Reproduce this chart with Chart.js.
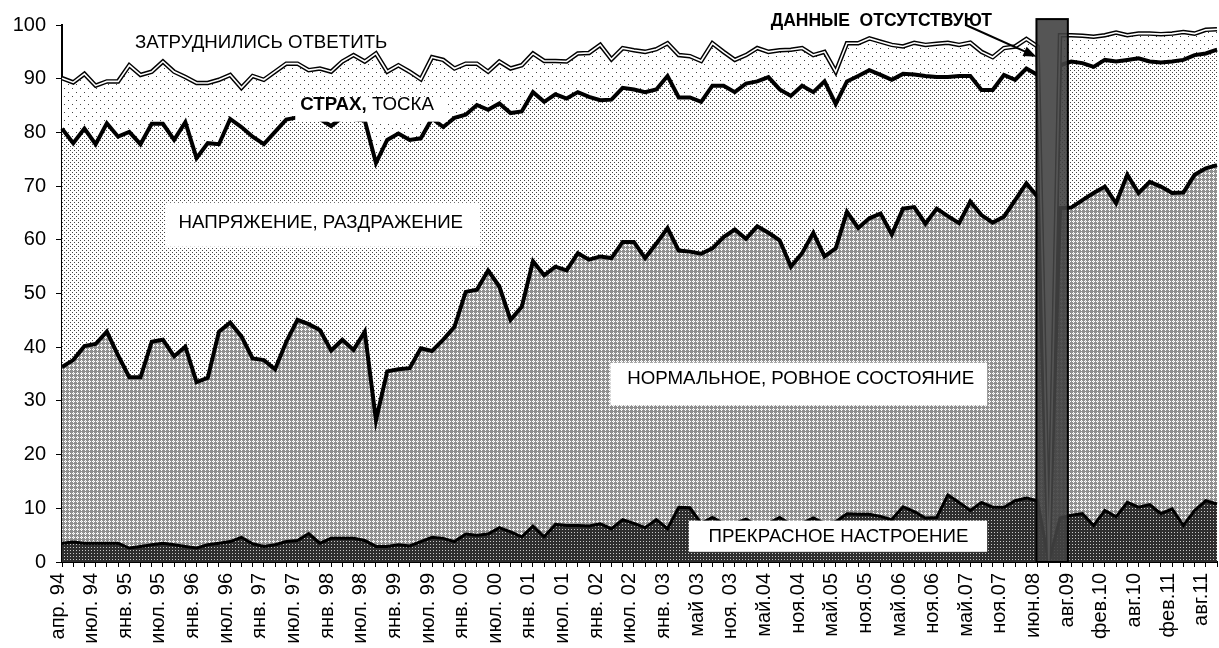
<!DOCTYPE html>
<html lang="ru">
<head>
<meta charset="utf-8">
<title>Настроение</title>
<script src="https://cdn.jsdelivr.net/npm/chart.js@4.4.1/dist/chart.umd.min.js"></script>
<style>
    html, body { margin: 0; padding: 0; background: #fff; }
    #wrap { width: 1219px; height: 648px; }
</style>
</head>
<body>
<div id="wrap"><canvas id="mood-chart" width="1219" height="648"></canvas></div>
<script>
// ============================================
// Data (percent, stacked to 100)
// each array is the upper edge of its band
// ============================================

const tickLabels = [
    'апр. 94', 'июл. 94', 'янв. 95', 'июл. 95', 'янв. 96', 'июл. 96', 'янв. 97',
    'июл. 97', 'янв. 98', 'июл. 98', 'янв. 99', 'июл. 99', 'янв. 00', 'июл. 00',
    'янв. 01', 'июл. 01', 'янв. 02', 'июл. 02', 'янв. 03', 'май 03', 'ноя. 03',
    'май.04', 'ноя.04', 'май.05', 'ноя.05', 'май.06', 'ноя.06', 'май.07',
    'ноя.07', 'июн.08', 'авг.09', 'фев.10', 'авг.10', 'фев.11', 'авг.11'
];

// ПРЕКРАСНОЕ НАСТРОЕНИЕ
const excellent = [
    3.5, 3.7, 3.5, 3.5, 3.5, 3.5, 2.6, 2.9, 3.2, 3.5,
    3.2, 2.9, 2.6, 3.2, 3.5, 3.8, 4.6, 3.4, 2.9, 3.2,
    3.8, 4.0, 5.3, 3.5, 4.4, 4.4, 4.4, 4.0, 2.9, 2.9,
    3.2, 3.0, 3.8, 4.6, 4.4, 3.8, 5.2, 5.0, 5.2, 6.4,
    5.6, 4.7, 6.7, 4.7, 7.0, 6.8, 6.8, 6.7, 7.1, 6.2,
    7.9, 7.2, 6.4, 7.9, 6.2, 10.2, 10.1, 7.2, 8.3, 7.2,
    7.2, 8.0, 6.8, 7.2, 8.3, 7.0, 7.2, 8.2, 7.2, 7.5,
    9.0, 8.9, 8.9, 8.5, 7.9, 10.3, 9.4, 8.2, 8.3, 12.5,
    11.1, 9.6, 11.1, 10.2, 10.2, 11.4, 11.9, 11.4, 0, 8.2,
    8.7, 9.0, 6.8, 9.6, 8.4, 11.1, 10.2, 10.7, 9.0, 9.9,
    6.8, 9.6, 11.4, 10.8
];

// + НОРМАЛЬНОЕ, РОВНОЕ СОСТОЯНИЕ
const normalTop = [
    36.3, 37.6, 40.2, 40.6, 42.9, 38.5, 34.4, 34.4, 41.0, 41.4,
    38.3, 40.1, 33.5, 34.3, 42.9, 44.6, 42.0, 37.9, 37.6, 35.9,
    41.0, 45.1, 44.3, 43.2, 39.4, 41.4, 39.5, 42.9, 26.4, 35.5,
    35.9, 36.1, 39.8, 39.3, 41.4, 43.8, 50.3, 50.7, 54.3, 51.3,
    45.1, 47.5, 56.0, 53.4, 55.0, 54.3, 57.5, 56.3, 56.9, 56.6,
    59.6, 59.6, 56.6, 59.3, 62.2, 58.0, 57.8, 57.4, 58.4, 60.5,
    61.9, 60.2, 62.5, 61.3, 59.9, 55.0, 57.5, 61.3, 56.9, 58.4,
    65.2, 62.2, 64.0, 64.9, 61.0, 65.8, 66.1, 63.0, 65.8, 64.4,
    63.1, 67.1, 64.6, 63.2, 64.3, 67.4, 70.5, 68.0, 0, 65.9,
    66.0, 67.4, 68.7, 69.9, 66.8, 72.1, 68.7, 70.8, 69.9, 68.7,
    68.8, 72.1, 73.3, 73.9
];

// + НАПРЯЖЕНИЕ, РАЗДРАЖЕНИЕ
const tensionTop = [
    80.7, 78.0, 80.7, 77.8, 81.7, 79.2, 80.1, 77.8, 81.6, 81.6,
    78.6, 81.9, 75.2, 78.0, 77.8, 82.5, 81.0, 79.2, 77.8, 80.1,
    82.4, 82.8, 83.0, 82.5, 81.2, 82.8, 82.5, 82.2, 74.3, 78.6,
    79.8, 78.6, 78.9, 82.6, 81.0, 82.7, 83.3, 85.1, 84.2, 85.4,
    83.6, 83.9, 87.5, 85.7, 87.1, 86.3, 87.5, 86.6, 86.0, 86.1,
    88.3, 88.0, 87.5, 88.0, 90.5, 86.5, 86.5, 85.7, 88.7, 88.7,
    87.5, 89.1, 89.5, 90.3, 88.0, 86.8, 88.7, 87.5, 89.5, 85.3,
    89.5, 90.5, 91.6, 90.7, 89.8, 90.9, 90.8, 90.5, 90.3, 90.3,
    90.5, 90.5, 87.9, 87.9, 90.7, 89.8, 91.9, 90.7, 0, 92.5,
    93.2, 92.9, 92.2, 93.5, 93.2, 93.5, 93.8, 93.2, 93.0, 93.2,
    93.5, 94.4, 94.7, 95.4
];

// + СТРАХ, ТОСКА (the rest up to 100 is ЗАТРУДНИЛИСЬ ОТВЕТИТЬ)
const fearTop = [
    90.1, 89.3, 90.9, 88.7, 89.5, 89.5, 92.5, 90.7, 91.3, 93.2,
    91.3, 90.3, 89.2, 89.2, 89.8, 90.7, 88.3, 90.5, 89.8, 91.3,
    92.8, 92.8, 91.6, 91.9, 91.3, 93.2, 94.4, 93.2, 94.7, 91.3,
    92.5, 91.3, 89.9, 94.0, 93.5, 91.9, 92.8, 92.8, 91.3, 93.2,
    91.9, 92.5, 94.7, 93.3, 93.3, 93.2, 94.7, 94.8, 96.3, 93.6,
    95.7, 95.3, 95.0, 95.5, 96.6, 94.4, 94.2, 93.3, 96.6, 95.0,
    93.5, 94.4, 95.7, 95.0, 95.3, 95.4, 95.7, 94.4, 95.0, 91.3,
    96.6, 96.6, 97.5, 96.9, 96.3, 96.0, 96.7, 96.3, 96.5, 96.7,
    96.3, 96.7, 95.0, 94.0, 95.7, 96.0, 97.4, 96.0, 0, 98.1,
    98.1, 98.0, 97.8, 98.1, 98.6, 98.1, 98.4, 98.4, 98.3, 98.4,
    98.7, 98.4, 99.1, 99.2
];

// one category per survey, every third one is labelled
const categories = excellent.map((v, i) => i);

// ============================================
// Annotations (x in category index, y in percent)
// ============================================

const FONT = '"Liberation Sans", Arial, sans-serif';

const bandLabels = [
    { parts: [['', 'ЗАТРУДНИЛИСЬ ОТВЕТИТЬ']], x: 6.5, y: 96.7, box: null },
    { parts: [['bold', 'СТРАХ,'], ['', ' ТОСКА']], x: 21.25, y: 85.1, box: [20.8, 34.4, 86.6, 82.0] },
    { parts: [['', 'НАПРЯЖЕНИЕ, РАЗДРАЖЕНИЕ']], x: 10.4, y: 63.1, box: [9.2, 37.3, 66.9, 58.7] },
    { parts: [['', 'НОРМАЛЬНОЕ, РОВНОЕ СОСТОЯНИЕ']], x: 50.4, y: 34.1, box: [48.9, 82.5, 37.1, 29.2] },
    { parts: [['', 'ПРЕКРАСНОЕ НАСТРОЕНИЕ']], x: 57.65, y: 4.7, box: [55.9, 82.5, 7.7, 1.9] }
];

const noData = {
    text: 'ДАННЫЕ  ОТСУТСТВУЮТ',
    textAt: [63.2, 100.8],
    arrowFrom: [80.6, 100.0],
    arrowTo: [86.9, 94.1],
    bar: [86.9, 89.7, 101.1]
};

// ============================================
// Fill patterns
// ============================================

function makePattern(ctx, w, h, bg, dots) {
    const tile = document.createElement('canvas');
    tile.width = w;
    tile.height = h;
    const g = tile.getContext('2d');
    g.fillStyle = bg;
    g.fillRect(0, 0, w, h);
    dots.forEach(([x, y, color]) => {
        g.fillStyle = color;
        g.fillRect(x, y, 1, 1);
    });
    return ctx.createPattern(tile, 'repeat');
}

const canvas = document.getElementById('mood-chart');
const ctx = canvas.getContext('2d');

const patExcellent = makePattern(ctx, 3, 3, '#2e2e2e', [[1, 1, '#c8c8c8']]);
const patNormal = makePattern(ctx, 4, 4, '#8f8f8f', [
    [1, 0, '#ffffff'], [0, 1, '#ffffff'], [2, 1, '#ffffff'], [1, 2, '#ffffff'], [1, 1, '#d0d0d0']
]);
const patTension = makePattern(ctx, 4, 4, '#ffffff', [[0, 0, '#444444'], [2, 2, '#444444']]);
const patFear = makePattern(ctx, 8, 8, '#ffffff', [[0, 0, '#444444'], [4, 4, '#444444']]);

// ============================================
// Annotation plugin
// ============================================

const annotationPlugin = {
    id: 'moodAnnotations',
    afterDatasetsDraw(chart) {
        const c = chart.ctx;
        const xs = chart.scales.x;
        const ys = chart.scales.y;
        const px = v => xs.getPixelForValue(v);
        const py = v => ys.getPixelForValue(v);

        c.save();

        // band labels
        bandLabels.forEach(label => {
            if (label.box) {
                const [x0, x1, y0, y1] = label.box;
                c.fillStyle = '#fff';
                c.fillRect(px(x0), py(y0), px(x1) - px(x0), py(y1) - py(y0));
            }
            let x = px(label.x);
            const y = py(label.y);
            c.fillStyle = '#000';
            c.textBaseline = 'middle';
            c.textAlign = 'left';
            label.parts.forEach(([weight, text]) => {
                c.font = (weight ? weight + ' ' : '') + '18.7px ' + FONT;
                c.fillText(text, x, y);
                x += c.measureText(text).width;
            });
        });

        // missing data bar
        const [b0, b1, bTop] = noData.bar;
        const bx = px(b0);
        const bw = px(b1) - bx;
        const by = py(bTop);
        const bh = py(0) - by;
        c.fillStyle = 'rgba(66, 66, 66, 0.9)';
        c.fillRect(bx, by, bw, bh);
        c.strokeStyle = '#000';
        c.lineWidth = 2;
        c.strokeRect(bx, by, bw, bh);

        // arrow
        const ax0 = px(noData.arrowFrom[0]), ay0 = py(noData.arrowFrom[1]);
        const ax1 = px(noData.arrowTo[0]), ay1 = py(noData.arrowTo[1]);
        const ang = Math.atan2(ay1 - ay0, ax1 - ax0);
        c.beginPath();
        c.moveTo(ax0, ay0);
        c.lineTo(ax1 - 8 * Math.cos(ang), ay1 - 8 * Math.sin(ang));
        c.lineWidth = 2;
        c.stroke();
        c.beginPath();
        c.moveTo(ax1, ay1);
        c.lineTo(ax1 - 13 * Math.cos(ang) + 5 * Math.sin(ang), ay1 - 13 * Math.sin(ang) - 5 * Math.cos(ang));
        c.lineTo(ax1 - 13 * Math.cos(ang) - 5 * Math.sin(ang), ay1 - 13 * Math.sin(ang) + 5 * Math.cos(ang));
        c.closePath();
        c.fillStyle = '#000';
        c.fill();

        // caption
        c.font = 'bold 17.5px ' + FONT;
        c.textBaseline = 'middle';
        c.textAlign = 'left';
        c.fillText(noData.text, px(noData.textAt[0]), py(noData.textAt[1]));

        c.restore();
    }
};

// ============================================
// Chart
// ============================================

const moodChart = new Chart(ctx, {
    type: 'line',
    data: {
        labels: categories,
        datasets: [
            {
                label: 'ПРЕКРАСНОЕ НАСТРОЕНИЕ',
                data: excellent,
                fill: 'origin',
                backgroundColor: patExcellent,
                borderColor: '#000',
                borderWidth: 3
            },
            {
                label: 'НОРМАЛЬНОЕ, РОВНОЕ СОСТОЯНИЕ',
                data: normalTop,
                fill: '-1',
                backgroundColor: patNormal,
                borderColor: '#000',
                borderWidth: 4
            },
            {
                label: 'НАПРЯЖЕНИЕ, РАЗДРАЖЕНИЕ',
                data: tensionTop,
                fill: '-1',
                backgroundColor: patTension,
                borderColor: '#000',
                borderWidth: 4
            },
            {
                label: 'СТРАХ, ТОСКА',
                data: fearTop,
                fill: '-1',
                backgroundColor: patFear,
                borderColor: '#000',
                borderWidth: 4.5
            },
            {
                // inner white stroke makes the double line
                label: 'СТРАХ, ТОСКА (контур)',
                data: fearTop,
                fill: false,
                borderColor: '#fff',
                borderWidth: 1.6,
                order: -1
            }
        ]
    },
    options: {
        responsive: false,
        animation: false,
        devicePixelRatio: 1,
        layout: { padding: { top: 25, right: 2, left: 0, bottom: 0 } },
        elements: {
            point: { radius: 0, hoverRadius: 0 },
            line: { tension: 0, borderJoinStyle: 'miter', borderCapStyle: 'butt' }
        },
        plugins: {
            legend: { display: false },
            tooltip: { enabled: false }
        },
        scales: {
            x: {
                type: 'category',
                offset: false,
                grid: { display: true, drawOnChartArea: false, tickLength: 5, color: '#000', lineWidth: 1 },
                border: { display: true, color: '#000', width: 2 },
                ticks: {
                    autoSkip: false,
                    minRotation: 90,
                    maxRotation: 90,
                    padding: 6,
                    labelOffset: -4,
                    color: '#000',
                    font: { family: FONT, size: 20 },
                    callback: (value, index) => (index % 3 === 0 ? tickLabels[index / 3] : '')
                },
                afterFit: scale => {
                    scale.height = 86;
                    scale.paddingLeft = 0;
                    scale.paddingRight = 0;
                }
            },
            y: {
                min: 0,
                max: 100,
                grid: { display: true, drawOnChartArea: false, tickLength: 6, color: '#000', lineWidth: 1 },
                border: { display: true, color: '#000', width: 2 },
                ticks: {
                    stepSize: 10,
                    padding: 10,
                    color: '#000',
                    font: { family: FONT, size: 20 }
                },
                afterFit: scale => { scale.width = 62; }
            }
        }
    },
    plugins: [annotationPlugin]
});
</script>
</body>
</html>
